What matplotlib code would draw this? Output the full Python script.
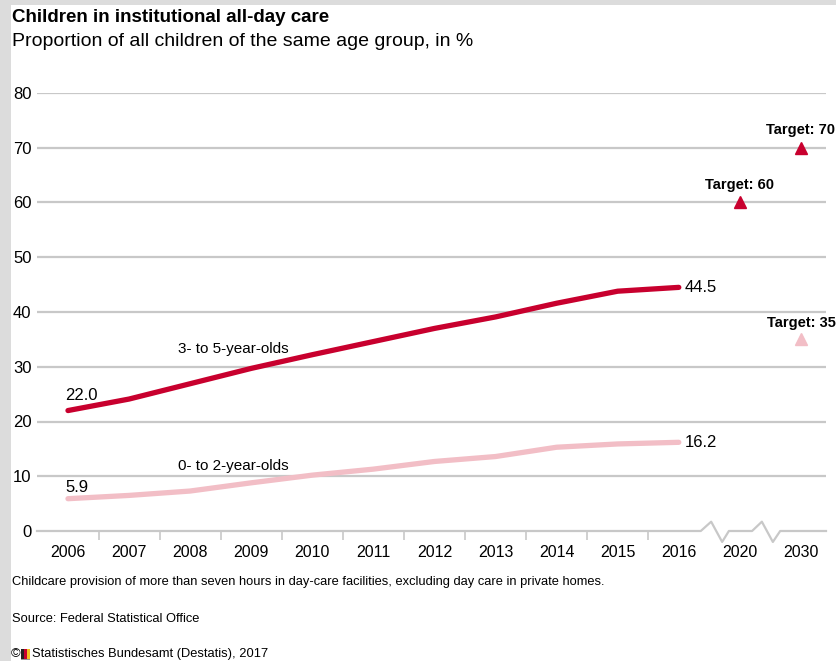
import matplotlib
matplotlib.use("Agg")
import matplotlib.pyplot as plt
from matplotlib.patches import Rectangle

# Data
years = ["2006", "2007", "2008", "2009", "2010", "2011", "2012", "2013", "2014", "2015", "2016", "2020", "2030"]
age_3_5 = [22.0, 24.1, 26.9, 29.7, 32.2, 34.6, 37.0, 39.1, 41.6, 43.8, 44.5]
age_0_2 = [5.9, 6.5, 7.3, 8.8, 10.2, 11.3, 12.7, 13.6, 15.3, 15.9, 16.2]
target_years = ["2020", "2030"]
target_3_5 = [60, 70]
target_0_2_year = "2030"
target_0_2 = 35

DARK_RED = "#c8002e"
PINK = "#f2bec6"
GRID = "#c8c8c8"

plt.rcParams["font.family"] = ["Liberation Sans Narrow", "Liberation Sans", "DejaVu Sans"]

W, H = 836, 661
fig = plt.figure(figsize=(W / 100, H / 100), dpi=100, facecolor="#dcdcdc")


def fx(px):
    return px / W


def fy(py):
    return 1 - py / H


# white panel inside the gray border
fig.patches.append(Rectangle((fx(11), 0), 1, fy(5), transform=fig.transFigure,
                             facecolor="white", edgecolor="none", zorder=-5))

ax = fig.add_axes([fx(37), fy(531), fx(826) - fx(37), fy(93) - fy(531)])
ax.set_zorder(2)
ax.set_facecolor("none")
ax.set_xlim(-0.507, 12.41)
ax.set_ylim(0, 80)

for s in ax.spines.values():
    s.set_visible(False)

# gridlines
for v in range(10, 81, 10):
    ax.axhline(v, color=GRID, lw=1.6, zorder=1)

# zero line with axis breaks
idx = list(range(len(years)))
brk_x = [-0.507, 10.36, 10.53, 10.71, 10.82, 11.20, 11.36, 11.54, 11.66, 12.41]
brk_y = [0, 0, 1.7, -2.0, 0, 0, 1.7, -2.0, 0, 0]
ax.plot(brk_x, brk_y, color=GRID, lw=1.6, clip_on=False, zorder=1)

# series
n = len(age_3_5)
ax.plot(idx[:n], age_3_5, color=DARK_RED, lw=3.8, solid_capstyle="round", zorder=3)
ax.plot(idx[:n], age_0_2, color=PINK, lw=3.8, solid_capstyle="round", zorder=3)

# targets
t_idx = [years.index(y) for y in target_years]
ax.plot(t_idx, target_3_5, "^", color=DARK_RED, ms=9, clip_on=False, zorder=4)
ax.plot(years.index(target_0_2_year), target_0_2, "^", color=PINK, ms=9, clip_on=False, zorder=4)
for xi, v in zip(t_idx, target_3_5):
    ax.text(xi, v + 3.2, f"Target: {v}", ha="center", va="center", fontsize=10.5,
            fontweight="bold", color="black")
ti = years.index(target_0_2_year)
ax.text(ti, target_0_2 + 3.0, f"Target: {target_0_2}", ha="center", va="center",
        fontsize=10.5, fontweight="bold", color="black")

# value labels
ax.text(-0.04, age_3_5[0] + 2.8, f"{age_3_5[0]:.1f}", ha="left", va="center", fontsize=12)
ax.text(-0.04, age_0_2[0] + 2.1, f"{age_0_2[0]:.1f}", ha="left", va="center", fontsize=12)
ax.text(n - 1 + 0.1, age_3_5[-1], f"{age_3_5[-1]:.1f}", ha="left", va="center", fontsize=12)
ax.text(n - 1 + 0.1, age_0_2[-1], f"{age_0_2[-1]:.1f}", ha="left", va="center", fontsize=12)

# series labels
ax.text(2.70, 33.2, "3- to 5-year-olds", ha="center", va="center", fontsize=11)
ax.text(2.70, 11.9, "0- to 2-year-olds", ha="center", va="center", fontsize=11)

# ticks
ax.set_xticks(idx)
ax.set_xticklabels(years, fontsize=11.5)
ax.set_xticks([i + 0.5 for i in range(10)], minor=True)
ax.tick_params(axis="x", which="major", length=0, pad=10)
ax.tick_params(axis="x", which="minor", length=6.5, width=1.2, color=GRID, direction="out")
ax.set_yticks(range(0, 81, 10))
ax.set_yticklabels([str(v) for v in range(0, 81, 10)], fontsize=12)
ax.tick_params(axis="y", length=0, pad=4)

# titles
fig.text(fx(12), fy(18), "Children in institutional all-day care", fontsize=13.5,
         fontweight="bold", ha="left", va="center")
fig.text(fx(12), fy(42), "Proportion of all children of the same age group, in %", fontsize=14,
         ha="left", va="center")

# footer
fig.text(fx(12), fy(582), "Childcare provision of more than seven hours in day-care facilities, "
         "excluding day care in private homes.", fontsize=9.3, ha="left", va="center")
fig.text(fx(12), fy(619), "Source: Federal Statistical Office", fontsize=9.3, ha="left", va="center")
fig.text(fx(11), fy(654), "\u00a9", fontsize=9.3, ha="left", va="center")
for k, c in enumerate(["#222222", DARK_RED, "#f0c020"]):
    fig.patches.append(Rectangle((fx(21 + k * 3), fy(659)), fx(2.5), fy(649) - fy(659),
                                 transform=fig.transFigure, facecolor=c, edgecolor="none"))
fig.patches.append(Rectangle((fx(21), fy(660)), fx(9), fy(659) - fy(660),
                             transform=fig.transFigure, facecolor="#999999", edgecolor="none"))
fig.text(fx(32), fy(654), "Statistisches Bundesamt (Destatis), 2017", fontsize=9.3,
         ha="left", va="center")

fig.savefig("out.png", dpi=100, facecolor=fig.get_facecolor())
